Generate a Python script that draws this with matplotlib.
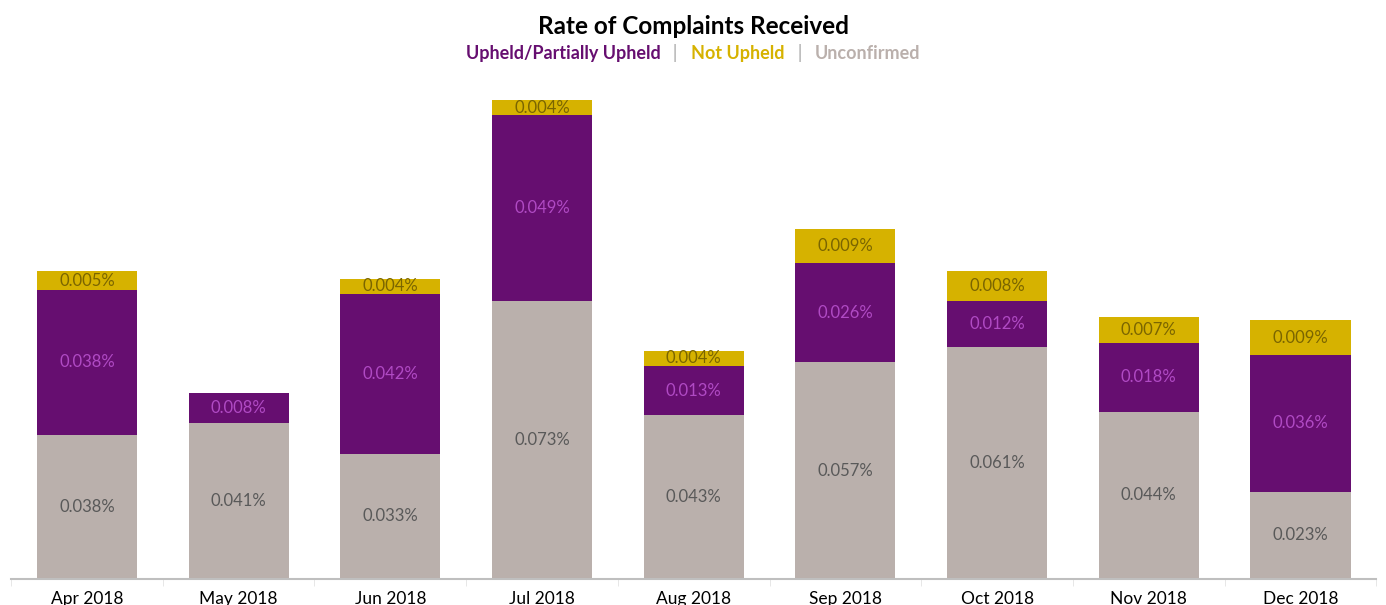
import numpy as np
import matplotlib.pyplot as plt
from matplotlib.offsetbox import TextArea, HPacker, AnchoredOffsetbox

# ========== DATA ========== #

months = ["Apr 2018", "May 2018", "Jun 2018", "Jul 2018", "Aug 2018",
          "Sep 2018", "Oct 2018", "Nov 2018", "Dec 2018"]
unconfirmed = [0.038, 0.041, 0.033, 0.073, 0.043, 0.057, 0.061, 0.044, 0.023]
upheld = [0.038, 0.008, 0.042, 0.049, 0.013, 0.026, 0.012, 0.018, 0.036]
not_upheld = [0.005, 0.0, 0.004, 0.004, 0.004, 0.009, 0.008, 0.007, 0.009]

# ========== STYLE ========== #

plt.rcParams['font.family'] = ['Lato', 'DejaVu Sans']
c_grey = "#BAB0AC"
c_purple = "#660E70"
c_gold = "#D6B200"

fig = plt.figure(figsize=(13.86, 6.05), dpi=100)
ax = fig.add_axes([0.008, 0.043, 0.985, 0.817])

x = np.arange(len(months))
w = 0.66
unc = np.array(unconfirmed)
uph = np.array(upheld)
nup = np.array(not_upheld)

ax.bar(x, unc, w, color=c_grey)
ax.bar(x, uph, w, bottom=unc, color=c_purple)
ax.bar(x, nup, w, bottom=unc + uph, color=c_gold)

# labels in the middle of each segment
for i in range(len(months)):
    ax.text(x[i], unc[i] / 2, "%.3f%%" % unc[i], ha='center', va='center',
            fontsize=12, color="#595959")
    if uph[i] > 0:
        ax.text(x[i], unc[i] + uph[i] / 2, "%.3f%%" % uph[i], ha='center',
                va='center', fontsize=12, color="#B04AC4")
    if nup[i] > 0:
        ax.text(x[i], unc[i] + uph[i] + nup[i] / 2, "%.3f%%" % nup[i],
                ha='center', va='center', fontsize=12, color="#7A6500")

ax.set_xlim(-0.5, len(months) - 0.5)
ax.set_ylim(0, 0.13)
ax.set_yticks([])
ax.set_xticks(x)
ax.set_xticklabels(months, fontsize=12.5)
ax.set_xticks(np.arange(len(months) + 1) - 0.5, minor=True)
ax.tick_params(axis='x', which='major', length=0, pad=9)
ax.tick_params(axis='x', which='minor', length=5, color="#E3E3E3")
for s in ['top', 'right', 'left']:
    ax.spines[s].set_visible(False)
ax.spines['bottom'].set_color("#BFBFBF")
ax.spines['bottom'].set_linewidth(1.5)

# title and coloured legend line
fig.text(0.5, 0.957, "Rate of Complaints Received", ha='center', va='center',
         fontsize=17.5, fontweight='bold', color='black')

parts = [("Upheld/Partially Upheld", c_purple), ("  |  ", "#BFBFBF"),
         ("Not Upheld", c_gold), ("  |  ", "#BFBFBF"),
         ("Unconfirmed", c_grey)]
areas = [TextArea(t, textprops=dict(color=c, fontsize=13, fontweight='bold'))
         for t, c in parts]
box = HPacker(children=areas, align='center', pad=0, sep=3)
anch = AnchoredOffsetbox(loc='center', child=box, frameon=False,
                         bbox_to_anchor=(0.5, 0.912),
                         bbox_transform=fig.transFigure, borderpad=0)
fig.add_artist(anch)

plt.savefig("out.png", dpi=100)
